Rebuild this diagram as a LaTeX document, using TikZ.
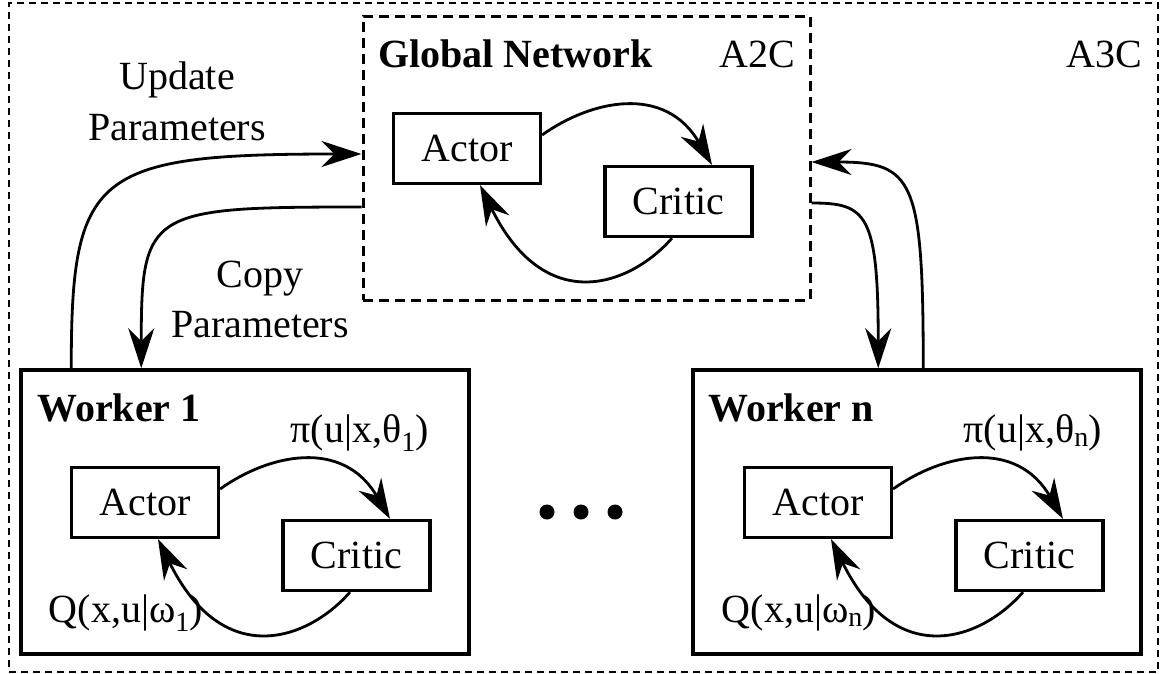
\documentclass[tikz,border=0pt]{standalone}
\usepackage{fontspec}
\setmainfont{Liberation Serif}
\usetikzlibrary{arrows.meta,calc}

\tikzset{
  every node/.style={font=\fontsize{40}{48}\selectfont, inner sep=0pt},
  frame3c/.style={draw, line width=2.2pt, dash pattern=on 7pt off 5pt},
  frame2c/.style={draw, line width=3pt, dash pattern=on 10pt off 6pt},
  workerbox/.style={draw, line width=3.5pt, minimum width=448pt, minimum height=284pt},
  unit/.style={draw, line width=3.2pt, minimum width=147pt, minimum height=70pt},
  flow/.style={line width=2.8pt, -{Stealth[length=40pt, width=26pt, inset=13pt]}},
  dotmark/.style={circle, fill, minimum size=15pt},
  boldtitle/.style={font=\fontsize{40}{48}\selectfont\bfseries},
}

% Actor and critic pair with their two exchange arrows (local frame of the global network)
\newcommand{\acpair}{%
  \node[unit] (actor) at (467,148.5) {Actor};
  \node[unit] (critic) at (678.5,201.5) {Critic};
  \draw[flow] ($(actor.east)+(0,-13.5)$) .. controls +(49,-35) and +(-47,-81) .. ($(critic.north)+(33.5,0)$);
  \draw[flow] ($(critic.south)+(-6.5,0)$) .. controls +(-42,48) and +(65,132) .. ($(actor.south)+(13,0)$);
}

\begin{document}
\begin{tikzpicture}[x=1pt, y=-1pt]
\useasboundingbox (0,0) rectangle (1160,673);

% outer A3C frame and the global A2C network
\node[frame3c, minimum width=1149pt, minimum height=669pt] (a3c) at (583.5,337.5) {};
\node[anchor=base east] (a3clabel) at (1142,67) {A3C};

\node[frame2c, minimum width=447pt, minimum height=284pt] (global) at (586.5,158) {};
\node[boldtitle, anchor=base west] (gtitle) at (378,67) {Global Network};
\node[anchor=base east] (a2clabel) at (795,67) {A2C};

\begin{scope}[name prefix=g-]
  \acpair
\end{scope}

% workers
\node[workerbox] (w1) at (245,512) {};
\node[boldtitle, anchor=base west] (w1title) at (37,421) {Worker 1};
\begin{scope}[shift={(-322,354)}, name prefix=w1-]
  \acpair
  \node[anchor=base] (pi) at (682,88) {π(u|x,θ\textsubscript{1})};
  \node[anchor=base] (q) at (448,268) {Q(x,u|ω\textsubscript{1})};
\end{scope}

\node[workerbox] (wn) at (917,512) {};
\node[boldtitle, anchor=base west] (wntitle) at (708,421) {Worker n};
\begin{scope}[shift={(351,354)}, name prefix=wn-]
  \acpair
  \node[anchor=base] (pi) at (682,88) {π(u|x,θ\textsubscript{n})};
  \node[anchor=base] (q) at (448,268) {Q(x,u|ω\textsubscript{n})};
\end{scope}

% ellipsis between the workers
\node[dotmark] (d1) at (547,512) {};
\node[dotmark] (d2) at (581,512) {};
\node[dotmark] (d3) at (615,512) {};

% parameter exchange between workers and the global network
\draw[flow] ($(w1.north west)+(52,0)$) .. controls +(0,-195) and +(-268,0) .. ($(global.west)+(0,-4)$);
\draw[flow] ($(global.west)+(0,49)$) .. controls +(-213,0) and +(0,-158) .. ($(w1.north west)+(122,0)$);
\draw[flow] ($(global.east)+(0,45)$) .. controls +(55,0) and +(0,-155) .. ($(wn.north west)+(187,0)$);
\draw[flow] ($(wn.north west)+(232,0)$) .. controls +(0,-190) and +(102,0) .. ($(global.east)+(0,4)$);

\node[anchor=base] (upd1) at (177,89) {Update};
\node[anchor=base] (upd2) at (177,140) {Parameters};
\node[anchor=base] (cp1) at (260,287) {Copy};
\node[anchor=base] (cp2) at (260,337) {Parameters};
\end{tikzpicture}
\end{document}
